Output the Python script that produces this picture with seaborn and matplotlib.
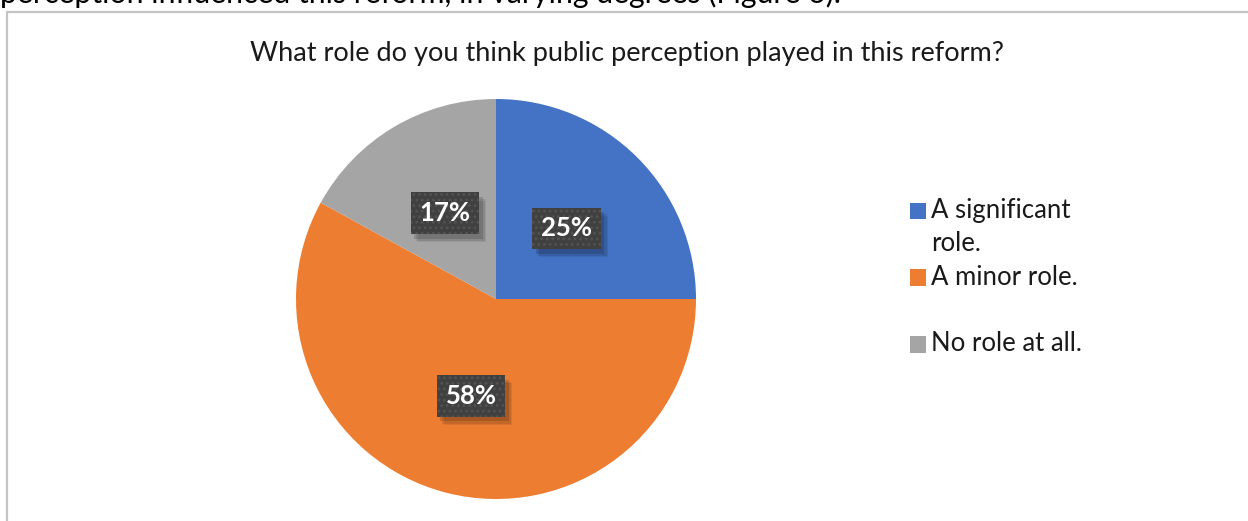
import matplotlib
matplotlib.use("Agg")
import matplotlib.pyplot as plt
import seaborn as sns
from matplotlib.patches import Rectangle, Patch
from matplotlib.legend_handler import HandlerPatch
import matplotlib.patheffects as pe

# ---- data ----
categories = ["A significant\nrole.", "A minor role.\n ", "No role at all.\n "]
values = [25, 58, 17]
title = "What role do you think public perception played in this reform?"
doc_text = "perception influenced this reform, in varying degrees (Figure 6)."

colors = ["#4472C4", "#ED7D31", "#A5A5A5"]

sns.set_theme(style="white")
plt.rcParams["font.family"] = ["Lato", "DejaVu Sans"]
plt.rcParams["hatch.linewidth"] = 1.2

W, H = 1248, 521
fig = plt.figure(figsize=(W / 100, H / 100), dpi=100)
fig.patch.set_facecolor("white")

# chart frame (document chart box, cropped at right/bottom)
frame = Rectangle((6.5 / W, -0.2), 1.2, 0.2 + (H - 11.5) / H, transform=fig.transFigure,
                  fill=False, edgecolor="#c4c4c4", lw=1.6)
fig.patches.append(frame)

# partial document text at very top
fig.text(0.0, 1 - 2.5 / H, doc_text, fontsize=21.8, va="baseline", ha="left", color="black")

fig.text(627 / W, 1 - 53 / H, title, fontsize=19.5, ha="center", va="center", color="#1a1a1a")

cx, cy, r = 496, 299, 200
ax = fig.add_axes([(cx - r) / W, (H - cy - r) / H, 2 * r / W, 2 * r / H])
wedges, texts, autotexts = ax.pie(values, colors=colors, startangle=90, counterclock=False,
                                  autopct="%1.0f%%", pctdistance=0.5,
                                  wedgeprops=dict(linewidth=0),
                                  textprops=dict(color="white", fontsize=18.5, fontweight="bold"))
ax.set_xlim(-1, 1)
ax.set_ylim(-1, 1)
ax.set_aspect("equal")
ax.axis("off")


class NoHatchShadow(pe.SimplePatchShadow):
    def draw_path(self, renderer, gc, tpath, affine, rgbFace):
        gc1 = renderer.new_gc()
        gc1.copy_properties(gc)
        gc1.set_hatch(None)
        super().draw_path(renderer, gc1, tpath, affine, rgbFace)
        gc1.restore()


for t in autotexts:
    t.set_bbox(dict(boxstyle="square,pad=0.34", facecolor="#404040", edgecolor="#535353",
                    linewidth=0, hatch="..."))
    bp = t.get_bbox_patch()
    bp.set_path_effects([
        NoHatchShadow(offset=(5, -6), shadow_rgbFace="black", alpha=0.08),
        NoHatchShadow(offset=(4, -5), shadow_rgbFace="black", alpha=0.1),
        NoHatchShadow(offset=(2.5, -3.5), shadow_rgbFace="black", alpha=0.14),
        pe.Normal()])


class TopHandler(HandlerPatch):
    def create_artists(self, legend, orig_handle, xdescent, ydescent, width, height,
                       fontsize, trans):
        p = Rectangle((-xdescent, -ydescent + 0.66 * fontsize), width, height,
                      facecolor=orig_handle.get_facecolor(), edgecolor="none",
                      transform=trans)
        return [p]


handles = [Patch(facecolor=c) for c in colors]
leg = fig.legend(handles, categories, loc="upper left", bbox_to_anchor=(910 / W, 1 - 198 / H),
                 frameon=False, fontsize=18.5, handlelength=0.62, handleheight=0.62,
                 handletextpad=0.2, labelspacing=0.34, borderpad=0, borderaxespad=0,
                 handler_map={Patch: TopHandler()})
for txt in leg.get_texts():
    txt.set_color("#1a1a1a")
    txt.set_linespacing(1.4)

fig.savefig("out.png", dpi=100, facecolor="white")
